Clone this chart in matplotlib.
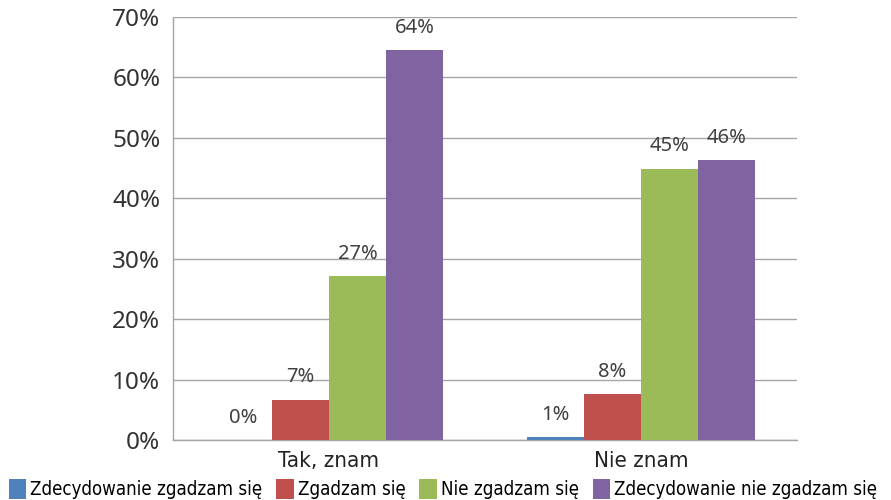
import matplotlib.pyplot as plt
import numpy as np
from matplotlib import font_manager

###############################################################################
# Data
categories = ["Tak, znam", "Nie znam"]
series = ["Zdecydowanie zgadzam się", "Zgadzam się", "Nie zgadzam się",
          "Zdecydowanie nie zgadzam się"]
values = [
    [0.0, 0.5],     # Zdecydowanie zgadzam się
    [6.7, 7.6],     # Zgadzam się
    [27.1, 44.9],   # Nie zgadzam się
    [64.5, 46.3],   # Zdecydowanie nie zgadzam się
]
labels = [["0%", "1%"], ["7%", "8%"], ["27%", "45%"], ["64%", "46%"]]
colors = ["#4F81BD", "#C0504D", "#9BBB59", "#8064A2"]

# fonts: condensed face for categories / legend, Noto for numbers
cat_font = font_manager.FontProperties(family='DejaVu Sans',
                                       stretch='condensed', size=16)
leg_font = font_manager.FontProperties(family='DejaVu Sans',
                                       stretch='condensed', size=13.4)
tick_font = font_manager.FontProperties(family='Noto Sans', size=17.5)
lab_font = font_manager.FontProperties(family='Noto Sans', size=14.5)

###############################################################################
# Plot
fig = plt.figure(figsize=(8.91, 5), dpi=100)
ax = fig.add_axes([0.194, 0.12, 0.7005, 0.846])

x = np.arange(len(categories))
width = 0.183
offsets = (np.arange(len(series)) - 1.5) * width
for vals, labs, col, off, name in zip(values, labels, colors, offsets, series):
    ax.bar(x + off, vals, width, color=col, label=name, zorder=3)
    for xi, v, lab in zip(x + off, vals, labs):
        ax.annotate(lab, (xi, v), xytext=(0, 16), textcoords='offset points',
                    ha='center', va='center', fontproperties=lab_font,
                    color='#404040', zorder=4)

ax.set_xlim(-0.5, 1.5)
ax.set_ylim(0, 70)
ax.set_yticks(np.arange(0, 71, 10))
ax.set_yticklabels([f"{t}%" for t in range(0, 71, 10)],
                   fontproperties=tick_font, color='#333333')
ax.set_xticks(x)
ax.set_xticklabels(categories, fontproperties=cat_font, color='#222222')
ax.tick_params(length=0, pad=9)
ax.tick_params(axis='x', pad=8)

ax.grid(axis='y', color='#A6A6A6', linewidth=1, zorder=0)
for side in ['top', 'right']:
    ax.spines[side].set_visible(False)
for side in ['left', 'bottom']:
    ax.spines[side].set_color('#A6A6A6')
    ax.spines[side].set_linewidth(1)

fig.legend(loc='lower center', bbox_to_anchor=(0.497, -0.032), ncol=4,
           frameon=False, prop=leg_font, handlelength=0.95, handleheight=1.3,
           handletextpad=0.2, columnspacing=0.75)

fig.savefig("out.png", dpi=100)
